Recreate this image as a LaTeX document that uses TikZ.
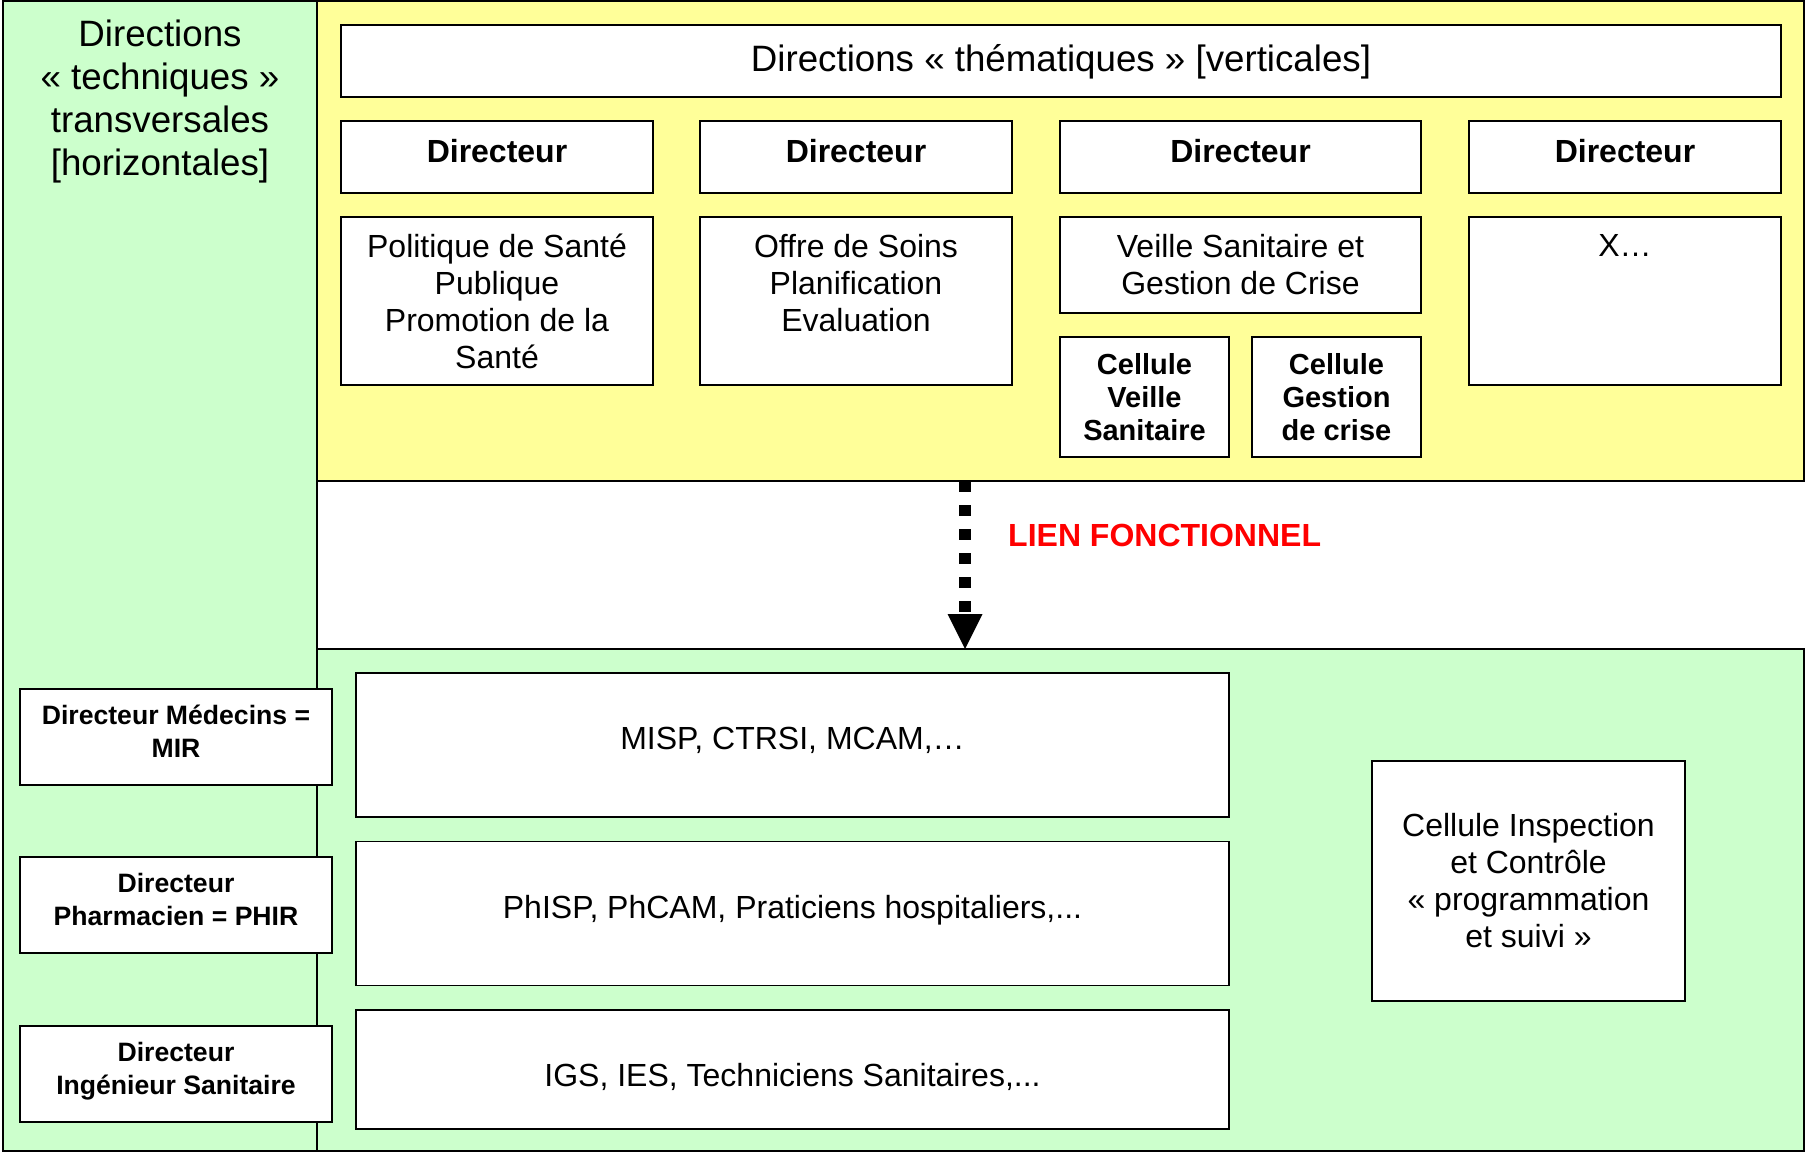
\documentclass[tikz,border=0pt]{standalone}
\usepackage{fontspec}
\setmainfont{Liberation Sans}
\usetikzlibrary{arrows.meta}
\definecolor{paleyellow}{HTML}{FFFF99}
\definecolor{palegreen}{HTML}{CCFFCC}
\definecolor{lienred}{HTML}{FF0000}
\begin{document}
\begin{tikzpicture}[x=1pt,y=-1pt,
  frame/.style={draw=black, line width=1.8pt, inner sep=0pt, outer sep=0pt},
  panel/.style={frame},
  box/.style={frame, fill=white, align=center},
  wh/.style 2 args={minimum width=#1pt, minimum height=#2pt},
  lift/.style={text height=#1pt, text depth=0pt},
  big/.style={font=\fontsize{36.7}{43}\selectfont},
  norm/.style={font=\fontsize{32}{37}\selectfont},
  bnorm/.style={font=\fontsize{32}{37}\selectfont\bfseries},
  bcell/.style={font=\fontsize{29}{33}\selectfont\bfseries},
  bsmall/.style={font=\fontsize{26.6}{32.5}\selectfont\bfseries},
]
\useasboundingbox (0,0) rectangle (1805,1152);
\fill[white] (0,0) rectangle (1805,1152);

% panels
\node[panel, fill=palegreen, wh={314}{1150}] (leftpanel) at (160,576) {};
\node[panel, fill=paleyellow, wh={1487}{480}] (thematic) at (1060.5,241) {};
\node[panel, fill=palegreen, wh={1487}{502}] (functional) at (1060.5,900) {};

\node[big, align=center] (lefttitle) at (160,102) {Directions\\« techniques »\\transversales\\\mbox{[horizontales]}};

% top part
\node[box, big, lift=21.2, wh={1440}{72}] (title) at (1061,61) {Directions « thématiques » [verticales]};

\node[box, bnorm, lift=11.6, wh={312}{72}] (dir1) at (497,157) {Directeur};
\node[box, bnorm, lift=11.6, wh={312}{72}] (dir2) at (856,157) {Directeur};
\node[box, bnorm, lift=11.6, wh={361}{72}] (dir3) at (1240.5,157) {Directeur};
\node[box, bnorm, lift=11.6, wh={312}{72}] (dir4) at (1625,157) {Directeur};

\node[box, norm, wh={312}{168}] (pol) at (497,301) {Politique de Santé\\Publique\\Promotion de la\\Santé};
\node[box, norm, wh={312}{168}] (offre) at (856,301) {Offre de Soins\\Planification\\Evaluation\\\mbox{}};
\node[box, norm, wh={361}{96}] (veille) at (1240.5,265) {Veille Sanitaire et\\Gestion de Crise};
\node[box, norm, wh={312}{168}] (xbox) at (1625,301) {X…\\\mbox{}\\\mbox{}\\\mbox{}};

\node[box, bcell, wh={169}{120}] (cellv) at (1144.5,397) {Cellule\\Veille\\Sanitaire};
\node[box, bcell, wh={169}{120}] (cellg) at (1336.5,397) {Cellule\\Gestion\\de crise};

% functional link
\coordinate (lienx) at (965,0);
\draw[line width=12pt, dash pattern=on 11pt off 13pt,
      -{Triangle[length=35pt,width=35pt,line width=0pt]}]
  (thematic.south -| lienx) -- (functional.north -| lienx);
\node[anchor=west, bnorm, text=lienred, inner sep=0pt] (lien) at (1008,535) {LIEN FONCTIONNEL};

% bottom part
\node[box, bsmall, wh={312}{96}] (mir) at (176,737) {Directeur Médecins =\\MIR\\[-21pt]\mbox{}};
\node[box, bsmall, wh={312}{96}] (phir) at (176,905) {Directeur\\Pharmacien = PHIR\\[-21pt]\mbox{}};
\node[box, bsmall, wh={312}{96}] (ingsan) at (176,1074) {Directeur\\Ingénieur Sanitaire\\[-21pt]\mbox{}};

\node[box, norm, lift=9, wh={873}{144}] (misp) at (792.5,745) {MISP, CTRSI, MCAM,…};
\node[box, norm, lift=9, wh={873}{144}] (phisp) at (792.5,913.5) {PhISP, PhCAM, Praticiens hospitaliers,...};
\node[box, norm, lift=34, wh={873}{119}] (igs) at (792.5,1069.5) {IGS, IES, Techniciens Sanitaires,...};

\node[box, norm, wh={313}{240}] (cellinsp) at (1528.5,881) {Cellule Inspection\\et Contrôle\\« programmation\\et suivi »};
\end{tikzpicture}
\end{document}
